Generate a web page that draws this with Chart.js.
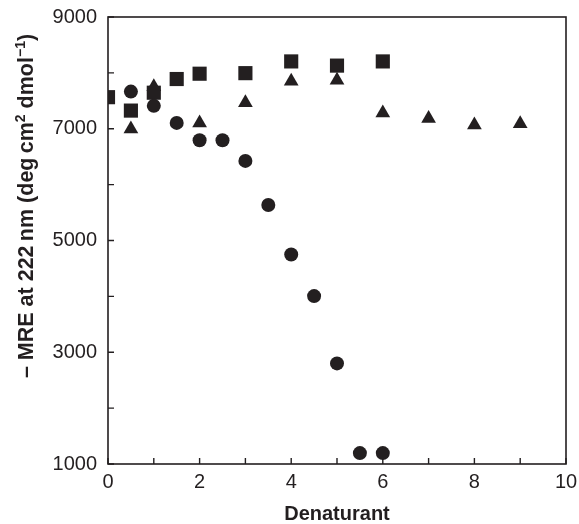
<!DOCTYPE html>
<html>
<head>
<meta charset="utf-8">
<script src="https://cdn.jsdelivr.net/npm/chart.js@4/dist/chart.umd.min.js"></script>
<style>
  html, body { margin: 0; padding: 0; background: #ffffff; }
  #wrap { width: 579px; height: 524px; position: relative; }
</style>
</head>
<body>
<div id="wrap"><canvas id="c"></canvas></div>
<script>
// ---- data ----
const xSquares   = [0, 0.5, 1, 1.5, 2, 3, 4, 5, 6];
const squares    = [7565, 7325, 7645, 7890, 7985, 7995, 8205, 8130, 8205];
const xTriangles = [0.5, 1, 2, 3, 4, 5, 6, 7, 8, 9];
const triangles  = [6995, 7750, 7105, 7465, 7850, 7870, 7280, 7185, 7065, 7090];
const xCircles   = [0.5, 1, 1.5, 2, 2.5, 3, 3.5, 4, 4.5, 5, 5.5, 6];
const circles    = [7665, 7410, 7105, 6795, 6795, 6425, 5635, 4750, 4005, 2800, 1195, 1195];

const xTickLabels = [0, 2, 4, 6, 8, 10];
const yTickLabels = [1000, 3000, 5000, 7000, 9000];
const xMinorTicks = [0, 1, 2, 3, 4, 5, 6, 7, 8, 9, 10];
const yMinorTicks = [1000, 2000, 3000, 4000, 5000, 6000, 7000, 8000, 9000];

const xTitle = 'Denaturant';
const yTitleParts = [
  { t: '\u2013 MRE at 222\u2009nm (deg\u2009cm', sup: false },
  { t: '2', sup: true },
  { t: ' dmol', sup: false },
  { t: '\u22121', sup: true },
  { t: ')', sup: false }
];

const INK = '#231f20';
const FONT = '"Liberation Sans", Arial, Helvetica, sans-serif';

const toPts = (xs, ys) => xs.map((x, i) => ({ x: x, y: ys[i] }));

const framePlugin = {
  id: 'frame',
  afterDraw(chart) {
    const ctx = chart.ctx;
    const a = chart.chartArea;
    const xs = chart.scales.x, ys = chart.scales.y;
    ctx.save();
    ctx.strokeStyle = INK;
    ctx.lineWidth = 1.6;
    ctx.strokeRect(a.left, a.top, a.right - a.left, a.bottom - a.top);
    ctx.lineWidth = 1.4;
    ctx.beginPath();
    xMinorTicks.forEach(v => {
      const px = xs.getPixelForValue(v);
      ctx.moveTo(px, a.bottom);
      ctx.lineTo(px, a.bottom - 6);
    });
    yMinorTicks.forEach(v => {
      const py = ys.getPixelForValue(v);
      ctx.moveTo(a.left, py);
      ctx.lineTo(a.left + 6, py);
    });
    ctx.stroke();

    // y-axis title with superscripts
    const mainFont = 'bold 21.5px ' + FONT;
    const supFont = 'bold 14px ' + FONT;
    let total = 0;
    yTitleParts.forEach(p => {
      ctx.font = p.sup ? supFont : mainFont;
      p.w = ctx.measureText(p.t).width;
      total += p.w;
    });
    ctx.translate(33, 206);
    ctx.rotate(-Math.PI / 2);
    ctx.fillStyle = INK;
    ctx.textBaseline = 'alphabetic';
    ctx.textAlign = 'left';
    let cx = -total / 2;
    yTitleParts.forEach(p => {
      ctx.font = p.sup ? supFont : mainFont;
      ctx.fillText(p.t, cx, p.sup ? -8 : 0);
      cx += p.w;
    });
    ctx.restore();
  }
};

const zeroPad = s => { s.paddingLeft = 0; s.paddingRight = 0; s.paddingTop = 0; s.paddingBottom = 0; };

new Chart(document.getElementById('c'), {
  type: 'scatter',
  data: {
    datasets: [
      { data: toPts(xCircles, circles), pointStyle: 'circle', pointRadius: 7,
        backgroundColor: INK, borderColor: INK, borderWidth: 0 },
      { data: toPts(xTriangles, triangles), pointStyle: 'triangle', pointRadius: 8.5,
        backgroundColor: INK, borderColor: INK, borderWidth: 0 },
      { data: toPts(xSquares, squares), pointStyle: 'rect', pointRadius: 10,
        backgroundColor: INK, borderColor: INK, borderWidth: 0 }
    ]
  },
  options: {
    responsive: true,
    maintainAspectRatio: false,
    animation: false,
    events: [],
    layout: { padding: { top: 17, right: 13, left: 0, bottom: 0 } },
    plugins: { legend: { display: false }, tooltip: { enabled: false } },
    scales: {
      x: {
        type: 'linear', min: 0, max: 10,
        afterBuildTicks: s => { s.ticks = xTickLabels.map(v => ({ value: v })); },
        afterFit: s => { s.height = 60; zeroPad(s); },
        grid: { display: false, drawTicks: false },
        border: { display: false },
        ticks: { color: INK, font: { family: FONT, size: 20 }, padding: 6, maxRotation: 0,
                 callback: v => String(v) },
        title: { display: true, text: xTitle, color: INK,
                 font: { family: FONT, size: 20, weight: 'bold' }, padding: { top: 0, bottom: -2 } }
      },
      y: {
        type: 'linear', min: 1000, max: 9000,
        afterBuildTicks: s => { s.ticks = yTickLabels.map(v => ({ value: v })); },
        afterFit: s => { s.width = 108; zeroPad(s); },
        grid: { display: false, drawTicks: false },
        border: { display: false },
        ticks: { color: INK, font: { family: FONT, size: 20 }, padding: 11,
                 callback: v => String(v) }
      }
    }
  },
  plugins: [framePlugin]
});
</script>
</body>
</html>
